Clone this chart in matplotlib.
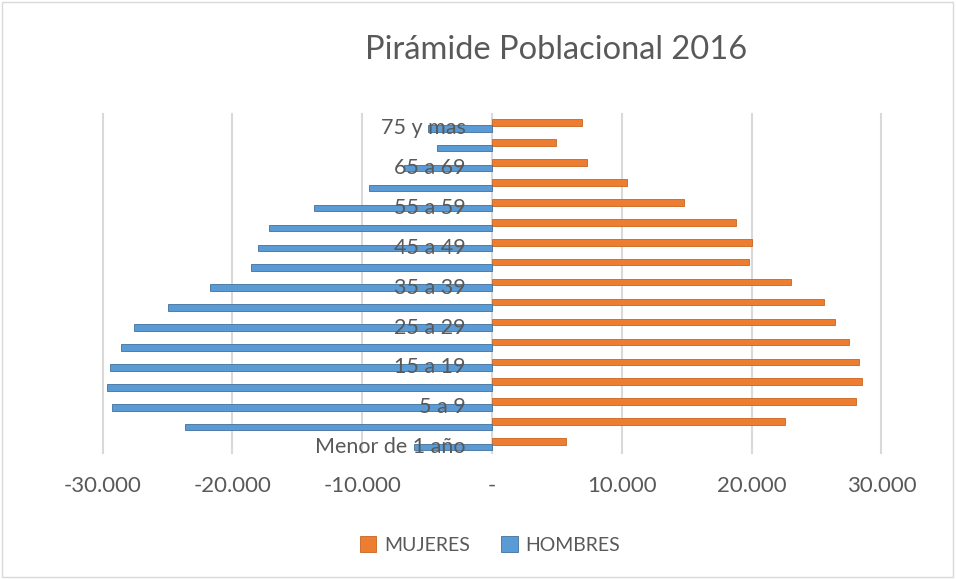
import matplotlib.pyplot as plt
import matplotlib.ticker as mticker
import matplotlib.transforms as mtransforms
from matplotlib.patches import Rectangle
import numpy as np

plt.rcParams['font.family'] = ['Lato', 'DejaVu Sans']

# datos (de menor a mayor edad)
grupos = ['Menor de 1 año', '1 a 4', '5 a 9', '10 a 14', '15 a 19', '20 a 24',
          '25 a 29', '30 a 34', '35 a 39', '40 a 44', '45 a 49', '50 a 54',
          '55 a 59', '60 a 64', '65 a 69', '70 a 74', '75 y mas']
mujeres = [5700, 22550, 28060, 28510, 28290, 27470, 26450, 25580, 23030,
           19840, 20020, 18800, 14790, 10400, 7320, 4900, 6940]
hombres = [-6000, -23640, -29250, -29630, -29400, -28560, -27620, -25000, -21730,
           -18570, -18030, -17160, -13700, -9510, -6800, -4200, -4950]

naranja = '#ED7D31'
azul = '#5B9BD5'
gris = '#595959'

fig = plt.figure(figsize=(9.56, 5.79), dpi=100)
ax = fig.add_axes([100.7/956, 1-453.5/579, (883.3-100.7)/956, (453.5-112.7)/579])

y = np.arange(len(grupos))
h = 0.33
ax.barh(y, mujeres, height=h, color=naranja, edgecolor='#C9651F', linewidth=0.6,
        label='MUJERES', zorder=3)
ax.barh(y - 0.28, hombres, height=h, color=azul, edgecolor='#41719C', linewidth=0.6,
        label='HOMBRES', zorder=3)

ax.set_xlim(-30150, 30150)
ax.set_ylim(-0.6, 16.5)
ax.set_xticks([-30000, -20000, -10000, 0, 10000, 20000, 30000])
ax.xaxis.set_major_formatter(mticker.FuncFormatter(
    lambda v, p: '-' if v == 0 else f'{v:,.0f}'.replace(',', '.')))
ax.grid(axis='x', color='#D9D9D9', linewidth=1.5, zorder=0)
ax.set_yticks([])
for s in ax.spines.values():
    s.set_visible(False)
ax.tick_params(axis='x', length=0, pad=16, labelsize=16, labelcolor=gris)

# etiquetas de categoria junto al eje cero (una si y otra no), encima de las barras
trans = mtransforms.offset_copy(ax.transData, fig=fig, x=-26, y=0, units='dots')
for i in y[::2]:
    ax.text(0, i - 0.28, grupos[i], transform=trans, ha='right', va='center',
            fontsize=15.5, color=gris, zorder=5)

fig.text(556/956, 1-50/579, 'Pirámide Poblacional 2016', ha='center', va='center',
         fontsize=23.5, color=gris)

fig.legend(loc='center', bbox_to_anchor=(490/956, 1-545/579), ncol=2, frameon=False,
           fontsize=14, labelcolor=gris, handlelength=0.85, handleheight=0.85,
           handletextpad=0.4, columnspacing=1.6)

fig.patches.append(Rectangle((0.002, 0.003), 0.995, 0.994, transform=fig.transFigure,
                             fill=False, edgecolor='#D9D9D9', linewidth=1))

fig.savefig('out.png', dpi=100)
